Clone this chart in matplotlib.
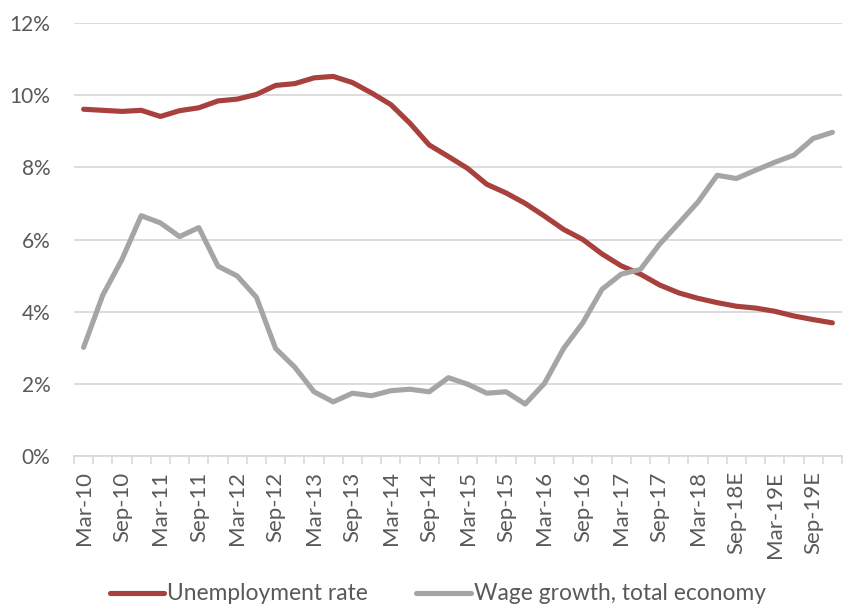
import matplotlib
matplotlib.use("Agg")
import matplotlib.pyplot as plt
from matplotlib.ticker import FuncFormatter, MultipleLocator
import numpy as np

# Quarterly categories, Mar-10 to Dec-19 (estimates marked "E")
quarters = []
for yr in range(10, 20):
    for mon in ["Mar", "Jun", "Sep", "Dec"]:
        est = "E" if (yr > 18 or (yr == 18 and mon in ("Sep", "Dec"))) else ""
        quarters.append(f"{mon}-{yr}{est}")

unemployment = [9.61, 9.58, 9.55, 9.58, 9.41, 9.57, 9.65, 9.84, 9.89, 10.02,
                10.27, 10.32, 10.48, 10.52, 10.35, 10.06, 9.74, 9.22, 8.62, 8.30,
                7.97, 7.53, 7.29, 7.00, 6.65, 6.28, 6.00, 5.60, 5.27, 5.04,
                4.74, 4.52, 4.37, 4.25, 4.15, 4.10, 4.01, 3.88, 3.78, 3.69]

wage_growth = [3.01, 4.46, 5.45, 6.66, 6.46, 6.08, 6.33, 5.26, 4.99, 4.40,
               2.98, 2.46, 1.78, 1.50, 1.74, 1.67, 1.81, 1.85, 1.78, 2.17,
               1.99, 1.74, 1.78, 1.44, 2.01, 2.98, 3.69, 4.62, 5.04, 5.17,
               5.87, 6.45, 7.04, 7.78, 7.69, 7.92, 8.14, 8.34, 8.80, 8.97]

RED = "#A8403E"
GREY = "#A5A5A5"
TEXT = "#595959"
GRID = "#D9D9D9"

plt.rcParams["font.family"] = ["Lato", "DejaVu Sans"]

fig = plt.figure(figsize=(8.45, 6.08), dpi=100)
ax = fig.add_axes([74 / 845, 1 - 456 / 608, (842 - 74) / 845, (456 - 23) / 608])

x = np.arange(len(quarters))
l1, = ax.plot(x, unemployment, color=RED, lw=3.7, solid_capstyle="round",
              solid_joinstyle="round", label="Unemployment rate", zorder=3)
l2, = ax.plot(x, wage_growth, color=GREY, lw=3.7, solid_capstyle="round",
              solid_joinstyle="round", label="Wage growth, total economy", zorder=3)

ax.set_xlim(-0.5, len(quarters) - 0.5)
ax.set_ylim(0, 12)

# y axis: percentage labels with horizontal gridlines
ax.yaxis.set_major_locator(MultipleLocator(2))
ax.yaxis.set_major_formatter(FuncFormatter(lambda v, _: f"{v:.0f}%"))
ax.grid(axis="y", color=GRID, lw=1.3, zorder=0)
ax.tick_params(axis="y", length=0, pad=17, labelsize=15, labelcolor=TEXT)

# x axis: labels every second quarter, tick marks at category boundaries
ax.set_xticks(x[::2])
ax.set_xticklabels(quarters[::2], rotation=90, ha="center", va="top")
ax.set_xticks(np.arange(-0.5, len(quarters) + 0.5, 1), minor=True)
ax.tick_params(axis="x", which="major", length=0, pad=11, labelsize=16,
               labelcolor=TEXT)
ax.tick_params(axis="x", which="minor", length=6, width=1.2, color=GRID,
               direction="out")

for side in ("top", "right", "left"):
    ax.spines[side].set_visible(False)
ax.spines["bottom"].set_color(GRID)
ax.spines["bottom"].set_linewidth(1.3)

fig.legend(handles=[l1, l2], loc="center", bbox_to_anchor=(0.518, 1 - 594 / 608),
           ncol=2, frameon=False, fontsize=16.4, labelcolor=TEXT,
           handlelength=2.4, handletextpad=0.13, columnspacing=2.1)

fig.savefig("out.png", dpi=100, facecolor="white")
